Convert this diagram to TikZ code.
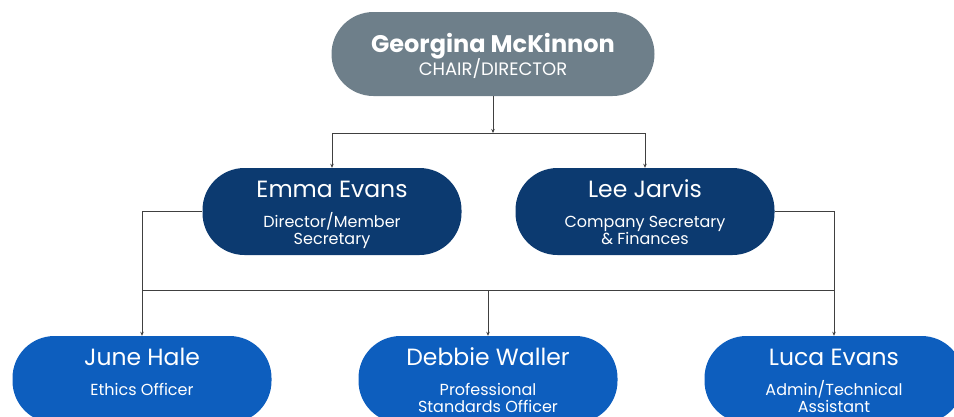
\documentclass[tikz,border=0pt]{standalone}
\usepackage{fontspec}
\setmainfont{Poppins}
\usepackage{xcolor}
\usetikzlibrary{calc, positioning, arrows.meta}

\definecolor{chairgrey}{RGB}{110,127,138}
\definecolor{boardnavy}{RGB}{12,58,112}
\definecolor{staffblue}{RGB}{13,94,190}

\newcommand{\pname}{\fontsize{23.5}{27}\selectfont}
\newcommand{\prole}{\fontsize{16}{17.5}\selectfont}
% name on top, role below, fixed from the top edge of the card
\newcommand{\cardtext}[2]{\parbox[c][87pt][t]{259pt}{\centering\lineskiplimit=-100pt
	\rule{0pt}{29pt}{\pname #1\par}\vspace{12.5pt}{\prole #2\par}}}

\tikzset{
	person/.style = {rectangle, rounded corners=42pt, text=white, inner sep=0pt},
	link/.style = {draw=black!75, line width=0.8pt},
	arr/.style = {link, -{Stealth[length=4pt, width=3.5pt]}},
}

\begin{document}
\begin{tikzpicture}[x=1pt, y=-1pt]
			\useasboundingbox (0,0) rectangle (954,416);
			\clip (0,0) rectangle (954,416);
			\node [person, fill=chairgrey] (georgina) at (493,54)
				{\parbox[c][84pt][t]{323pt}{\centering\lineskiplimit=-100pt
					\rule{0pt}{40pt}{\fontsize{24}{27}\selectfont\bfseries Georgina McKinnon\par}\vspace{2pt}
					{\fontsize{18}{21}\selectfont CHAIR/DIRECTOR\par}}};
			\node [person, fill=boardnavy] (emma) at (332,211.5) {\cardtext{Emma Evans}{Director/Member\\ Secretary}};
			\node [person, fill=boardnavy] (lee) at (645,211.5) {\cardtext{Lee Jarvis}{Company Secretary\\ \& Finances}};
			\node [person, fill=staffblue] (june) at (142,379.5) {\cardtext{June Hale}{Ethics Officer}};
			\node [person, fill=staffblue] (debbie) at (488,379.5) {\cardtext{Debbie Waller}{Professional\\ Standards Officer}};
			\node [person, fill=staffblue] (luca) at (834,379.5) {\cardtext{Luca Evans}{Admin/Technical\\ Assistant}};
			% upper level
			\coordinate (topbar) at (493,133);
			\draw [link] (emma.north |- topbar) -- (lee.north |- topbar);
			\draw [arr] (georgina.south) -- (topbar);
			\draw [arr] (emma.north |- topbar) -- (emma.north);
			\draw [arr] (lee.north |- topbar) -- (lee.north);
			% lower level
			\coordinate (lowbar) at (488,290);
			\draw [arr] (emma.west) -| (june.north);
			\draw [arr] (lee.east) -| (luca.north);
			\draw [link] (june.north |- lowbar) -- (luca.north |- lowbar);
			\draw [arr] (debbie.north |- lowbar) -- (debbie.north);
		\end{tikzpicture}
\end{document}
